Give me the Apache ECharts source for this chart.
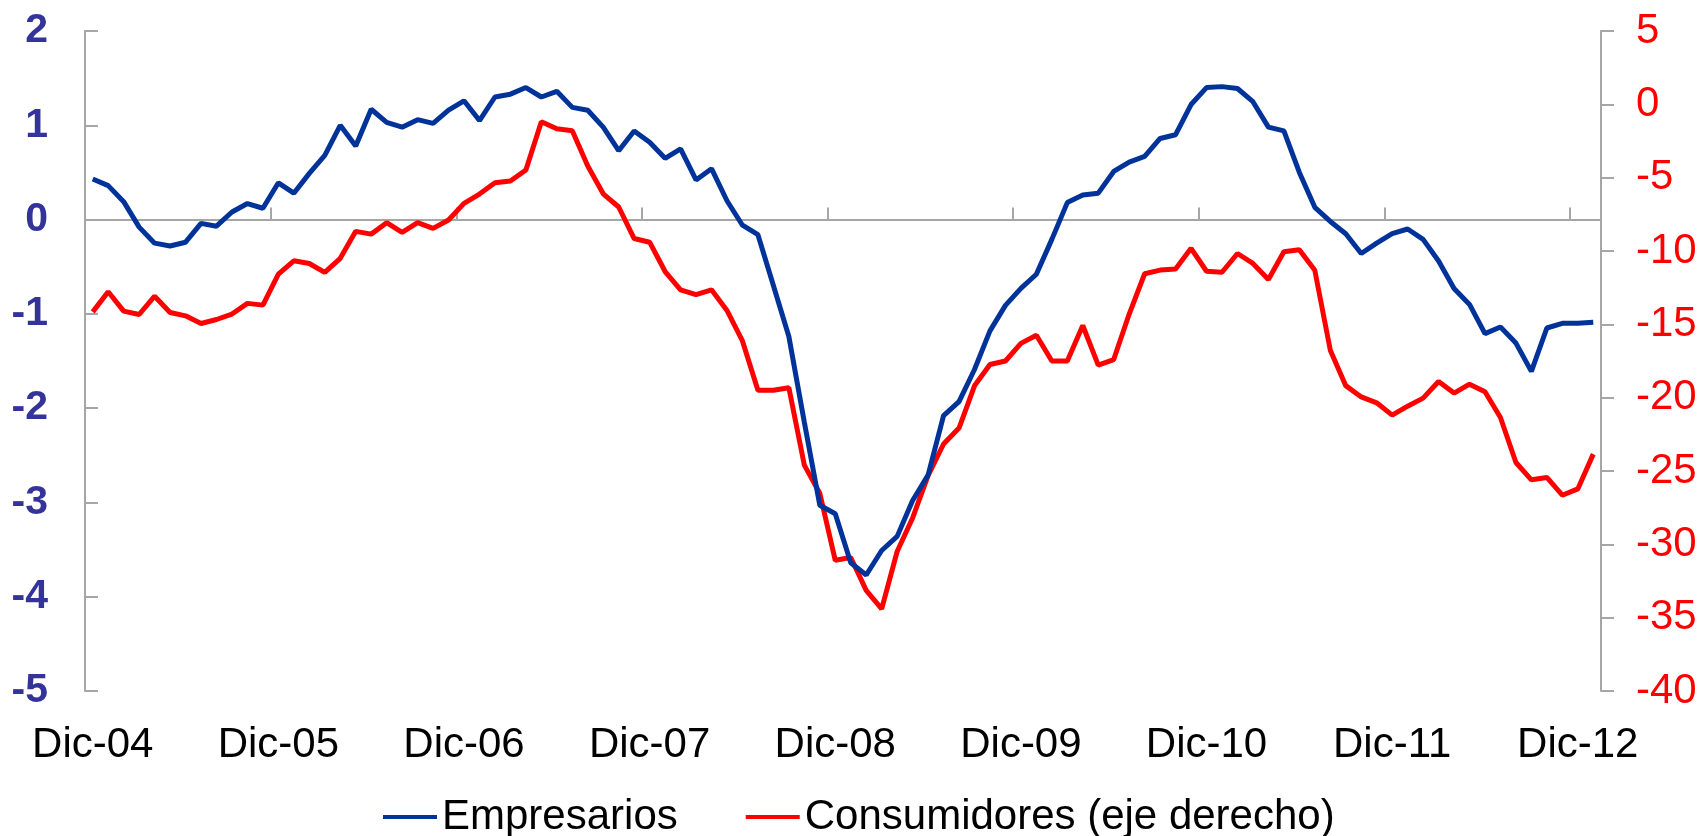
<!DOCTYPE html>
<html>
<head>
<meta charset="utf-8">
<script src="https://cdn.jsdelivr.net/npm/echarts@6/dist/echarts.min.js"></script>
<style>
    html, body { margin: 0; padding: 0; background: #fff; }
    #chart { width: 1705px; height: 836px; }
</style>
</head>
<body>
<div id="chart"></div>
<script>
// meses dic-04 .. ene-13
var meses = [
    'Dic-04',
    'Ene-05','Feb-05','Mar-05','Abr-05','May-05','Jun-05','Jul-05','Ago-05','Sep-05','Oct-05','Nov-05','Dic-05',
    'Ene-06','Feb-06','Mar-06','Abr-06','May-06','Jun-06','Jul-06','Ago-06','Sep-06','Oct-06','Nov-06','Dic-06',
    'Ene-07','Feb-07','Mar-07','Abr-07','May-07','Jun-07','Jul-07','Ago-07','Sep-07','Oct-07','Nov-07','Dic-07',
    'Ene-08','Feb-08','Mar-08','Abr-08','May-08','Jun-08','Jul-08','Ago-08','Sep-08','Oct-08','Nov-08','Dic-08',
    'Ene-09','Feb-09','Mar-09','Abr-09','May-09','Jun-09','Jul-09','Ago-09','Sep-09','Oct-09','Nov-09','Dic-09',
    'Ene-10','Feb-10','Mar-10','Abr-10','May-10','Jun-10','Jul-10','Ago-10','Sep-10','Oct-10','Nov-10','Dic-10',
    'Ene-11','Feb-11','Mar-11','Abr-11','May-11','Jun-11','Jul-11','Ago-11','Sep-11','Oct-11','Nov-11','Dic-11',
    'Ene-12','Feb-12','Mar-12','Abr-12','May-12','Jun-12','Jul-12','Ago-12','Sep-12','Oct-12','Nov-12','Dic-12',
    'Ene-13'
];

// eje izquierdo
var empresarios = [
    0.43,
    0.36, 0.19, -0.08, -0.25, -0.28, -0.24, -0.04, -0.07, 0.08, 0.17, 0.12, 0.39,
    0.28, 0.49, 0.68, 1.00, 0.78, 1.17, 1.03, 0.98, 1.06, 1.02, 1.16, 1.26,
    1.05, 1.30, 1.33, 1.40, 1.30, 1.36, 1.19, 1.16, 0.98, 0.73, 0.94, 0.82,
    0.65, 0.75, 0.42, 0.54, 0.20, -0.06, -0.16, -0.70, -1.24, -2.15, -3.03, -3.12,
    -3.64, -3.77, -3.51, -3.36, -2.98, -2.71, -2.08, -1.93, -1.59, -1.18, -0.91, -0.73,
    -0.58, -0.21, 0.18, 0.26, 0.28, 0.51, 0.61, 0.67, 0.86, 0.90, 1.22, 1.40,
    1.41, 1.39, 1.25, 0.98, 0.94, 0.50, 0.13, -0.02, -0.15, -0.36, -0.25, -0.15,
    -0.10, -0.21, -0.44, -0.73, -0.90, -1.21, -1.14, -1.31, -1.61, -1.15, -1.10, -1.10,
    -1.09
];

// eje derecho
var consumidores = [
    -14.15,
    -12.78, -14.10, -14.33, -13.08, -14.19, -14.42, -14.94, -14.67, -14.30, -13.57, -13.69, -11.58,
    -10.67, -10.85, -11.46, -10.50, -8.66, -8.85, -8.07, -8.73, -8.07, -8.46, -7.89, -6.75,
    -6.12, -5.35, -5.23, -4.48, -1.19, -1.67, -1.80, -4.20, -6.10, -7.00, -9.15, -9.40,
    -11.40, -12.65, -12.97, -12.65, -14.05, -16.13, -19.50, -19.50, -19.32, -24.60, -26.52, -31.09,
    -30.90, -33.14, -34.40, -30.49, -28.20, -25.32, -23.16, -22.07, -19.19, -17.74, -17.50, -16.30,
    -15.75, -17.50, -17.50, -15.08, -17.78, -17.40, -14.30, -11.55, -11.30, -11.22, -9.82, -11.38,
    -11.45, -10.17, -10.85, -11.94, -10.05, -9.92, -11.32, -16.76, -19.18, -19.95, -20.35, -21.19,
    -20.58, -20.03, -18.90, -19.69, -19.08, -19.60, -21.35, -24.42, -25.60, -25.44, -26.65, -26.22,
    -23.85
];

var chart = echarts.init(document.getElementById('chart'));
var ejeGris = '#a6a6a6';
var fuente = '"Liberation Sans", Arial, sans-serif';

var option = {
    animation: false,
    backgroundColor: '#fff',
    textStyle: { fontFamily: fuente },
    grid: {
        left: 85,
        right: 104,
        top: 31,
        bottom: 145
    },
    legend: {
        left: 378,
        top: 791,
        icon: 'rect',
        itemWidth: 54,
        itemHeight: 4,
        itemGap: 68,
        textStyle: {
            color: '#000',
            fontSize: 42,
            fontFamily: fuente
        },
        data: ['Empresarios', 'Consumidores (eje derecho)']
    },
    xAxis: [{
        // linea del cero con marcas
        type: 'category',
        data: meses,
        boundaryGap: true,
        axisLine: {
            show: true,
            onZero: true,
            onZeroAxisIndex: 0,
            lineStyle: { color: ejeGris, width: 2 }
        },
        axisTick: {
            show: true,
            inside: true,
            length: 12,
            interval: 11,
            lineStyle: { color: ejeGris, width: 2 }
        },
        axisLabel: { show: false },
        splitLine: { show: false }
    }, {
        // etiquetas abajo
        type: 'category',
        data: meses,
        position: 'bottom',
        boundaryGap: true,
        axisLine: { show: false, onZero: false },
        axisTick: { show: false },
        axisLabel: {
            interval: 11,
            color: '#000',
            fontSize: 42,
            fontFamily: fuente,
            margin: 33
        },
        splitLine: { show: false }
    }],
    yAxis: [{
        type: 'value',
        min: -5,
        max: 2,
        interval: 1,
        position: 'left',
        axisLine: { show: true, lineStyle: { color: ejeGris, width: 2 } },
        axisTick: { show: true, inside: true, length: 13, lineStyle: { color: ejeGris, width: 2 } },
        axisLabel: {
            color: '#333399',
            fontSize: 41,
            fontWeight: 'bold',
            fontFamily: fuente,
            margin: 37
        },
        splitLine: { show: false }
    }, {
        type: 'value',
        min: -40,
        max: 5,
        interval: 5,
        position: 'right',
        axisLine: { show: true, lineStyle: { color: ejeGris, width: 2 } },
        axisTick: { show: true, inside: false, length: 13, lineStyle: { color: ejeGris, width: 2 } },
        axisLabel: {
            color: '#ff0000',
            fontSize: 42,
            fontFamily: fuente,
            margin: 35
        },
        splitLine: { show: false }
    }],
    series: [{
        name: 'Empresarios',
        type: 'line',
        xAxisIndex: 0,
        yAxisIndex: 0,
        data: empresarios,
        symbol: 'none',
        itemStyle: { color: '#003399' },
        lineStyle: { color: '#003399', width: 5 },
        z: 3
    }, {
        name: 'Consumidores (eje derecho)',
        type: 'line',
        xAxisIndex: 0,
        yAxisIndex: 1,
        data: consumidores,
        symbol: 'none',
        itemStyle: { color: '#ff0000' },
        lineStyle: { color: '#ff0000', width: 5 },
        z: 2
    }]
};

chart.setOption(option);
</script>
</body>
</html>
